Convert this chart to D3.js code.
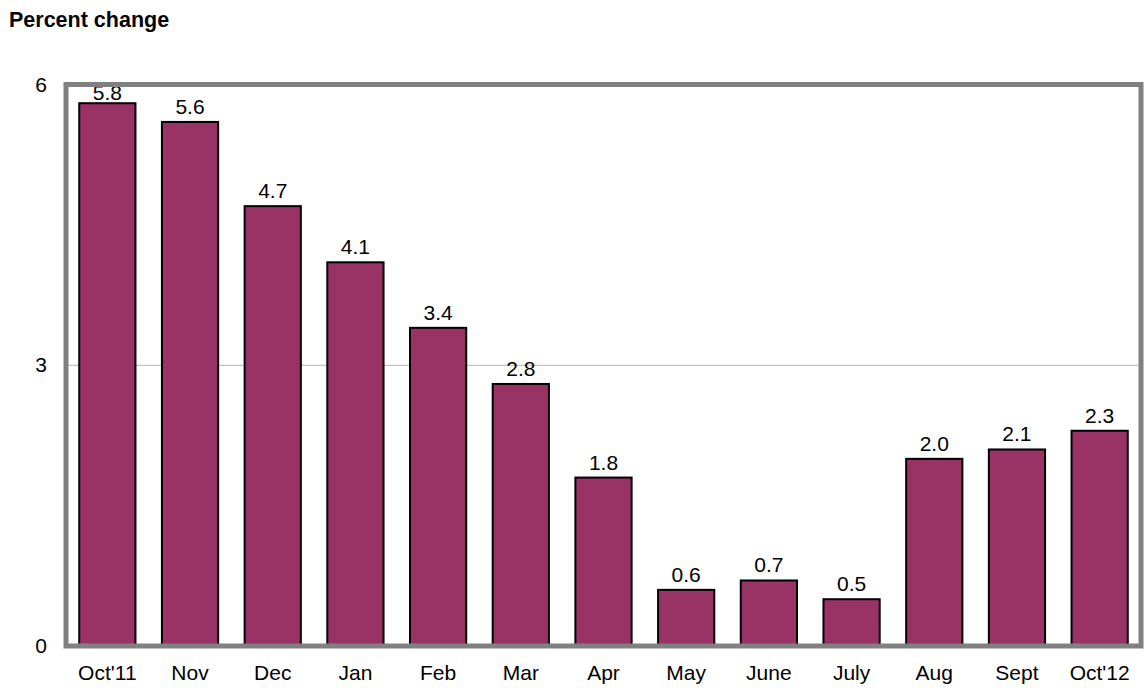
<!DOCTYPE html>
<html>
<head>
<meta charset="utf-8">
<script src="https://d3js.org/d3.v7.min.js"></script>
<style>
  body { margin: 0; background: #fff; }
  text { font-family: "Liberation Sans", Arial, sans-serif; }
</style>
</head>
<body>
<div id="chart"></div>
<script>
// chart data
var months = ["Oct'11", "Nov", "Dec", "Jan", "Feb", "Mar", "Apr", "May", "June", "July", "Aug", "Sept", "Oct'12"];
var values = [5.8, 5.6, 4.7, 4.1, 3.4, 2.8, 1.8, 0.6, 0.7, 0.5, 2.0, 2.1, 2.3];
var yTicks = [0, 3, 6];

var width = 1144, height = 688;
var plotLeft = 66, plotRight = 1141, plotTop = 84.5, plotBottom = 646;

var svg = d3.select("#chart").append("svg")
  .attr("width", width)
  .attr("height", height);

var x = d3.scaleBand().domain(months).range([plotLeft, plotRight]).paddingInner(0.32).paddingOuter(0.16);
var y = d3.scaleLinear().domain([0, 6]).range([plotBottom, plotTop]);

// title
svg.append("text")
  .attr("x", 9).attr("y", 27)
  .style("font-size", "21.5px").style("font-weight", "bold")
  .text("Percent change");

// gridline at 3
svg.append("g").selectAll("line")
  .data(yTicks.filter(function(d) { return d > 0 && d < 6; }))
  .enter().append("line")
  .attr("x1", plotLeft).attr("x2", plotRight)
  .attr("y1", function(d) { return y(d); })
  .attr("y2", function(d) { return y(d); })
  .attr("stroke", "#b4b4b4").attr("stroke-width", 1);

// bars
svg.append("g").selectAll("rect")
  .data(values)
  .enter().append("rect")
  .attr("x", function(d, i) { return x(months[i]); })
  .attr("width", x.bandwidth())
  .attr("y", function(d) { return y(d); })
  .attr("height", function(d) { return y(0) - y(d); })
  .attr("fill", "#993366")
  .attr("stroke", "#000").attr("stroke-width", 2);

// value labels (kept inside the frame near the top)
svg.append("g").selectAll("text")
  .data(values)
  .enter().append("text")
  .attr("x", function(d, i) { return x(months[i]) + x.bandwidth() / 2; })
  .attr("y", function(d) { return Math.max(y(d) - 8, 100); })
  .attr("text-anchor", "middle")
  .style("font-size", "21px")
  .text(function(d) { return d.toFixed(1); });

// frame
svg.append("rect")
  .attr("x", plotLeft).attr("y", plotTop)
  .attr("width", plotRight - plotLeft).attr("height", plotBottom - plotTop)
  .attr("fill", "none").attr("stroke", "#808080").attr("stroke-width", 5);

// y axis labels
svg.append("g").selectAll("text")
  .data(yTicks)
  .enter().append("text")
  .attr("x", 47).attr("y", function(d) { return y(d) + 7; })
  .attr("text-anchor", "end")
  .style("font-size", "21px")
  .text(function(d) { return d; });

// x axis labels
svg.append("g").selectAll("text")
  .data(months)
  .enter().append("text")
  .attr("x", function(d) { return x(d) + x.bandwidth() / 2; })
  .attr("y", 680)
  .attr("text-anchor", "middle")
  .style("font-size", "21px")
  .text(function(d) { return d; });
</script>
</body>
</html>
